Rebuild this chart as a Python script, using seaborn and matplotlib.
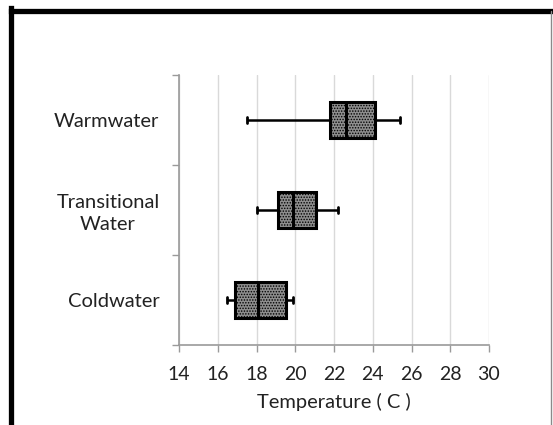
import matplotlib
matplotlib.use("Agg")
import matplotlib.pyplot as plt
import seaborn as sns
import pandas as pd
from matplotlib.lines import Line2D

categories = ["Warmwater", "Transitional\nWater", "Coldwater"]
mins = [17.5, 18.0, 16.5]
q1s = [21.8, 19.1, 16.9]
medians = [22.6, 19.9, 18.1]
q3s = [24.1, 21.05, 19.5]
maxs = [25.4, 22.2, 19.9]
xticks = [14, 16, 18, 20, 22, 24, 26, 28, 30]

rows = []
for c, a, b, m, d, e in zip(categories, mins, q1s, medians, q3s, maxs):
    for v in (a, b, m, d, e):
        rows.append({"group": c, "temp": v})
df = pd.DataFrame(rows)

sns.set_style("white")
plt.rcParams["font.family"] = ["Lato", "DejaVu Sans"]
plt.rcParams["hatch.linewidth"] = 0.7

fig = plt.figure(figsize=(5.53, 4.25), dpi=100)
ax = fig.add_axes([179/553, 1-345/425, 310/553, 270/425])

sns.boxplot(data=df, x="temp", y="group", order=categories, orient="h",
            whis=(0, 100), width=0.41, color="#8e8e8e", saturation=1,
            linecolor="black", linewidth=2.2, ax=ax,
            medianprops=dict(color="black", linewidth=2.2),
            whiskerprops=dict(color="black", linewidth=1.8),
            capprops=dict(color="black", linewidth=2.0),
            capwidths=0.06)

for p in ax.patches:
    p.set_hatch("......")

ax.set_xlim(14, 30)
ax.set_xticks(xticks)
ax.set_xticklabels([str(t) for t in xticks], fontsize=14, color="#222222")
ax.set_ylim(2.5, -0.5)
ax.set_yticks([-0.5, 0.5, 1.5, 2.5], minor=False)
ax.set_yticklabels([])
ax.set_yticks([0, 1, 2], minor=True)
ax.set_yticklabels(categories, minor=True, fontsize=14.5, color="#222222",
                   multialignment="center", linespacing=1.3)
ax.tick_params(axis="y", which="minor", length=0, pad=14)
ax.tick_params(axis="y", which="major", length=5, width=1, color="#9a9a9a", direction="out", left=True)
ax.tick_params(axis="x", length=5, width=1, color="#9a9a9a", direction="out", bottom=True, pad=10)
ax.set_xlabel("Temperature ( C )", fontsize=14.5, color="#222222", labelpad=7)
ax.set_ylabel("")
ax.grid(axis="x", color="#d9d9d9", linewidth=1)
ax.set_axisbelow(True)
for s in ["top", "right"]:
    ax.spines[s].set_visible(False)
for s in ["left", "bottom"]:
    ax.spines[s].set_color("#9a9a9a")
    ax.spines[s].set_linewidth(1.2)

# frame border
fig.add_artist(Line2D([10.5/553, 10.5/553], [0, 1-8/425], transform=fig.transFigure,
                      color="black", linewidth=3.8, solid_capstyle="projecting"))
fig.add_artist(Line2D([10.5/553, 1], [1-11/425, 1-11/425], transform=fig.transFigure,
                      color="black", linewidth=3.8, solid_capstyle="projecting"))
fig.add_artist(Line2D([551/553, 551/553], [0, 1-11/425], transform=fig.transFigure,
                      color="#8a8a8a", linewidth=1.0))

fig.savefig("out.png", dpi=100)
